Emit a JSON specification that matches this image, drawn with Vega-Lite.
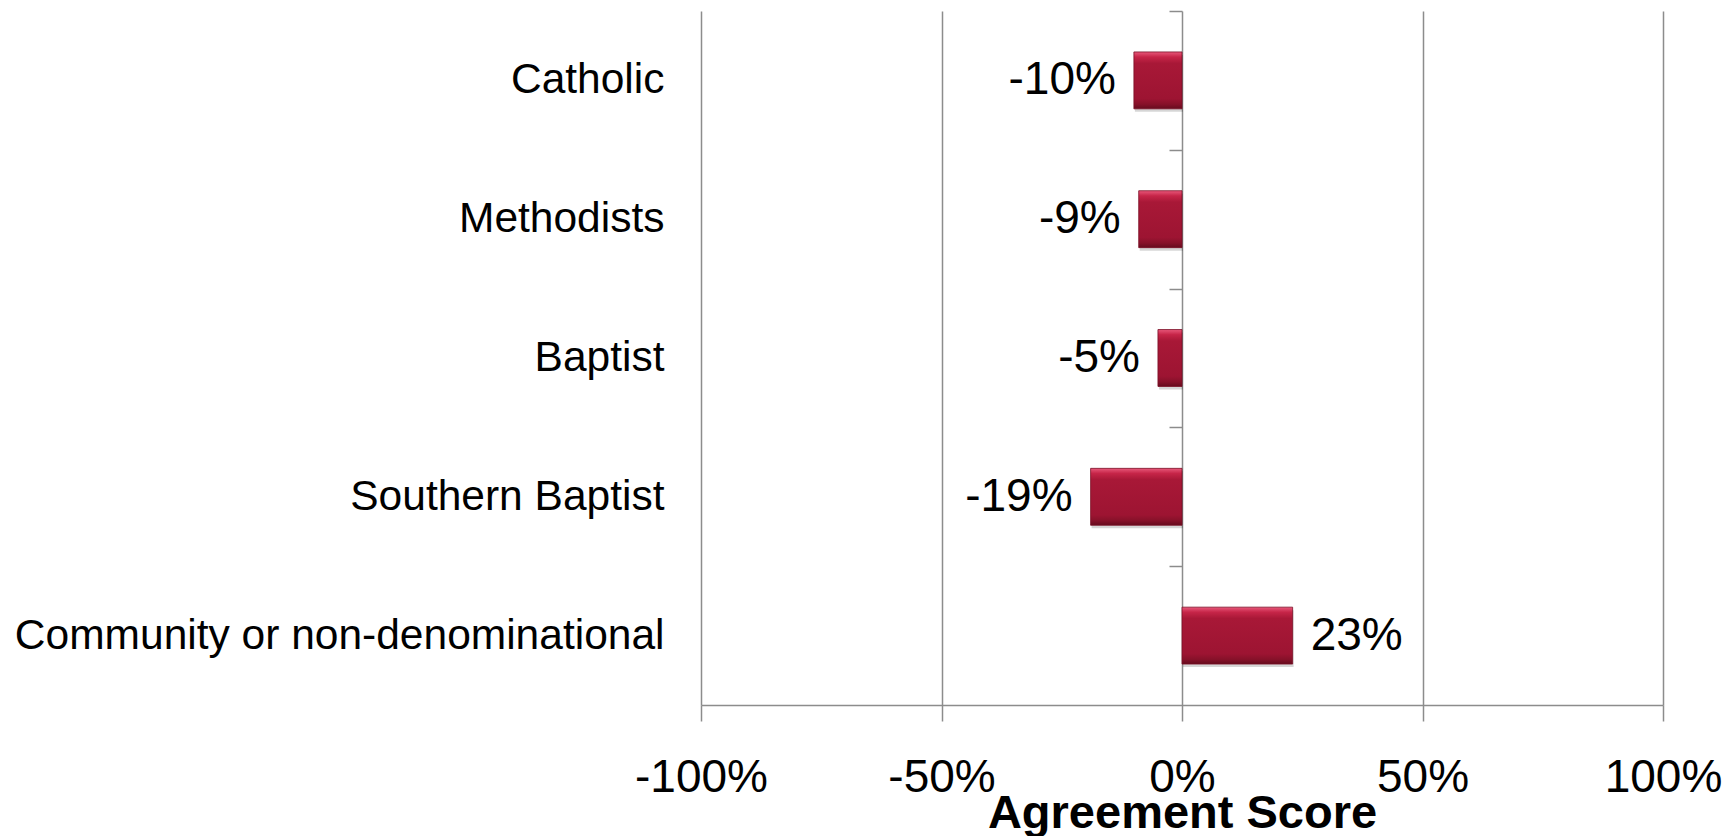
{
  "$schema": "https://vega.github.io/schema/vega-lite/v6.json",
  "width": 962,
  "height": 694,
  "autosize": "none",
  "padding": {"left": 701, "top": 11, "right": 64, "bottom": 131},
  "background": "white",
  "config": {"view": {"stroke": null}},
  "data": {
    "values": [
      {"group": "Catholic", "value": -10, "label": "-10%"},
      {"group": "Methodists", "value": -9, "label": "-9%"},
      {"group": "Baptist", "value": -5, "label": "-5%"},
      {"group": "Southern Baptist", "value": -19, "label": "-19%"},
      {"group": "Community or non-denominational", "value": 23, "label": "23%"}
    ]
  },
  "encoding": {
    "x": {
      "field": "value",
      "type": "quantitative",
      "scale": {"domain": [-100, 100], "nice": false, "zero": true},
      "axis": {
        "title": "Agreement Score",
        "values": [-100, -50, 0, 50, 100],
        "labelExpr": "datum.value + '%'",
        "grid": true,
        "gridColor": "#8c8c8c",
        "gridWidth": 1.5,
        "domainColor": "#8c8c8c",
        "domainWidth": 1.5,
        "tickColor": "#8c8c8c",
        "tickWidth": 1.5,
        "tickSize": 16,
        "labelFont": "Liberation Sans",
        "labelFontSize": 46,
        "labelColor": "#000000",
        "labelPadding": 34,
        "labelBaseline": "top",
        "labelFlush": false,
        "labelOverlap": false,
        "titleFont": "Liberation Sans",
        "titleFontSize": 47,
        "titleFontWeight": "bold",
        "titleColor": "#000000",
        "titleX": 481,
        "titleY": 122,
        "titleAlign": "center",
        "titleBaseline": "alphabetic"
      }
    }
  },
  "layer": [
    {
      "mark": {"type": "bar", "fill": "#000000", "opacity": 0.16, "xOffset": 1, "yOffset": 3},
      "encoding": {
        "y": {
          "field": "group",
          "type": "nominal",
          "sort": null,
          "scale": {"paddingInner": 0.59, "paddingOuter": 0.295},
          "axis": {
            "orient": "left",
            "title": null,
            "offset": -481,
            "labels": false,
            "domain": false,
            "ticks": true,
            "tickOffset": -69.4,
            "tickSize": 13,
            "tickColor": "#8c8c8c",
            "tickWidth": 1.5
          }
        }
      }
    },
    {
      "mark": {
        "type": "bar",
        "stroke": "#7a0f26",
        "strokeWidth": 0.8,
        "fill": {
          "gradient": "linear",
          "x1": 0, "y1": 0, "x2": 0, "y2": 1,
          "stops": [
            {"offset": 0, "color": "#e8587a"},
            {"offset": 0.09, "color": "#c62548"},
            {"offset": 0.2, "color": "#a81837"},
            {"offset": 0.82, "color": "#9d1432"},
            {"offset": 0.92, "color": "#861129"},
            {"offset": 1, "color": "#650b1e"}
          ]
        }
      },
      "encoding": {
        "y": {
          "field": "group",
          "type": "nominal",
          "sort": null,
          "axis": {
            "orient": "left",
            "title": null,
            "domain": false,
            "ticks": false,
            "labelPadding": 37,
            "labelFont": "Liberation Sans",
            "labelFontSize": 42.5,
            "labelColor": "#000000",
            "labelLimit": 0,
            "labelBaseline": "middle"
          }
        }
      }
    },
    {
      "transform": [{"filter": "datum.value < 0"}],
      "mark": {"type": "text", "align": "right", "baseline": "middle", "dx": -18, "font": "Liberation Sans", "fontSize": 46, "color": "#000000"},
      "encoding": {
        "y": {"field": "group", "type": "nominal", "sort": null, "axis": null},
        "text": {"field": "label"}
      }
    },
    {
      "transform": [{"filter": "datum.value > 0"}],
      "mark": {"type": "text", "align": "left", "baseline": "middle", "dx": 18, "font": "Liberation Sans", "fontSize": 46, "color": "#000000"},
      "encoding": {
        "y": {"field": "group", "type": "nominal", "sort": null, "axis": null},
        "text": {"field": "label"}
      }
    }
  ],
  "resolve": {"axis": {"y": "independent"}}
}
